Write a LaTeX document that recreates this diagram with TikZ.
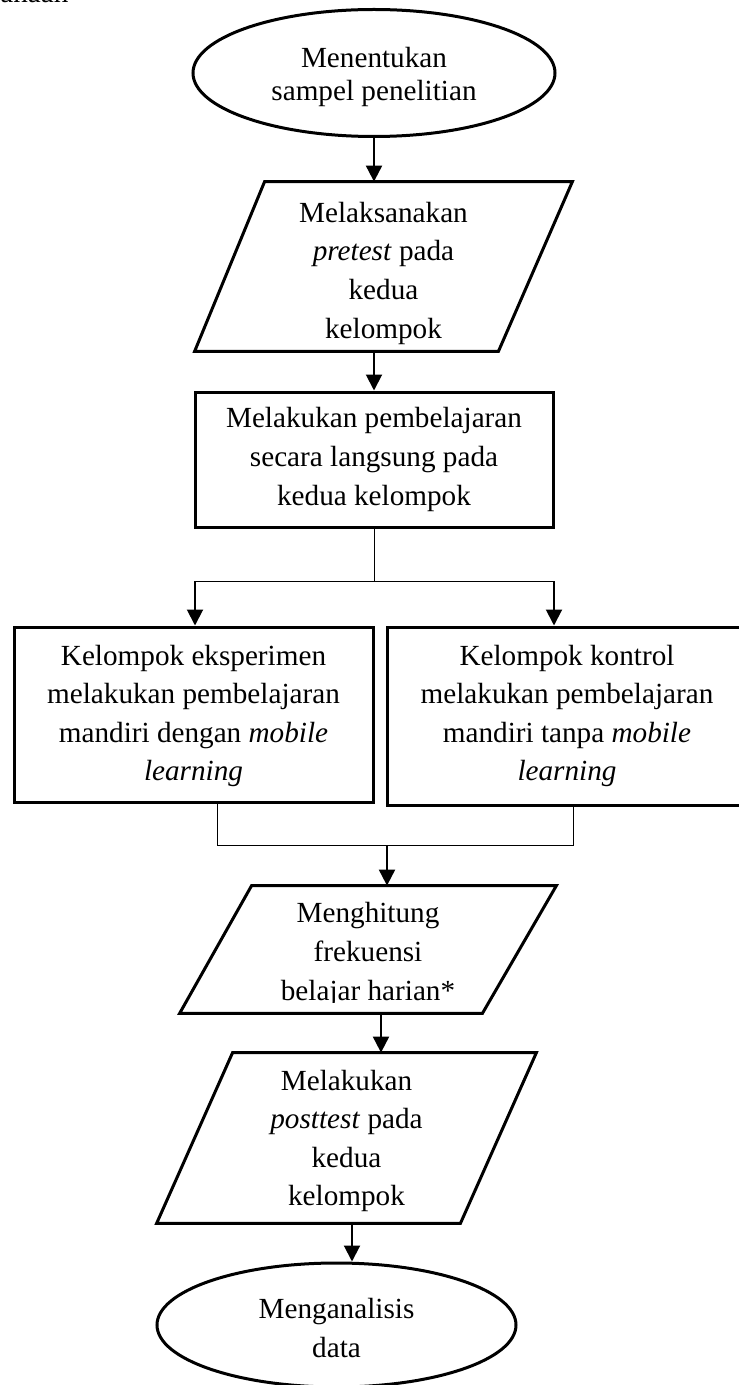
\documentclass[tikz,border=0pt]{standalone}
\usepackage{fontspec}
\setmainfont{Liberation Serif}
\usetikzlibrary{arrows.meta,shapes.geometric}

\begin{document}
\begin{tikzpicture}[x=0.5pt, y=-0.5pt,
	every node/.style={font=\fontsize{14.6}{19.3}\selectfont, align=center},
	>={Triangle[length=8pt, width=8pt]},
	stepbox/.style={draw, rectangle, line width=1.5pt},
	endbox/.style={draw, ellipse, line width=1.5pt},
	databox/.style={rectangle, inner sep=0pt},
	tepi/.style={line width=1.5pt, line join=miter},
	flow/.style={->, line width=1pt},
	joint/.style={line width=0.5pt}]
	\useasboundingbox (0,0) rectangle (738,1385);
	\node[anchor=base west, inner sep=0pt] (kop) at (0,2.5) {anaan};
	% bentuk
	\node[endbox, minimum width=181pt, minimum height=63.5pt] (mulai) at (374,73) {};
	\node[databox, minimum width=188.5pt, minimum height=84.5pt] (pretest) at (383.5,266.5) {};
	\draw[tepi] ([xshift=35pt]pretest.north west) -- (pretest.north east) -- ([xshift=-37pt]pretest.south east) -- (pretest.south west) -- cycle;
	\node[stepbox, minimum width=179pt, minimum height=67.5pt] (langsung) at (374,459.5) {};
	\node[stepbox, minimum width=179.5pt, minimum height=87.5pt] (eksperimen) at (193.5,714.5) {};
	\node[stepbox, minimum width=180pt, minimum height=89pt] (kontrol) at (567,716) {};
	\node[databox, minimum width=188pt, minimum height=63.5pt] (frekuensi) at (368,949.5) {};
	\draw[tepi] ([xshift=36pt]frekuensi.north west) -- (frekuensi.north east) -- ([xshift=-37pt]frekuensi.south east) -- (frekuensi.south west) -- cycle;
	\node[databox, minimum width=189.5pt, minimum height=85pt] (posttest) at (346.5,1138) {};
	\draw[tepi] ([xshift=38pt]posttest.north west) -- (posttest.north east) -- ([xshift=-38pt]posttest.south east) -- (posttest.south west) -- cycle;
	\node[endbox, minimum width=179.5pt, minimum height=62pt] (analisis) at (336.5,1325) {};
	% teks
	\node[font=\fontsize{14.6}{16.5}\selectfont] (mulai teks) at ([yshift=-1.75pt]mulai.center) {Menentukan\\sampel penelitian};
	\node (pretest teks) at ([yshift=-3.3pt]pretest.center) {Melaksanakan\\\textit{pretest} pada\\kedua\\kelompok};
	\node (langsung teks) at (langsung.center) {Melakukan pembelajaran\\secara langsung pada\\kedua kelompok};
	\node (eksperimen teks) at ([yshift=-0.75pt]eksperimen.center) {Kelompok eksperimen\\melakukan pembelajaran\\mandiri dengan \textit{mobile}\\\textit{learning}};
	\node (kontrol teks) at (kontrol.center) {Kelompok kontrol\\melakukan pembelajaran\\mandiri tanpa \textit{mobile}\\\textit{learning}};
	\begin{scope}
		\clip (150,880) rectangle (600,1002);
		\node (frekuensi teks) at ([yshift=-2.5pt]frekuensi.center) {Menghitung\\frekuensi\\belajar harian*};
	\end{scope}
	\node (posttest teks) at ([yshift=-1.5pt]posttest.center) {Melakukan\\\textit{posttest} pada\\kedua\\kelompok};
	\node (analisis teks) at ([yshift=-1.5pt]analisis.center) {Menganalisis\\data};
	% titik cabang
	\coordinate (cabang kiri) at (195,581);
	\coordinate (cabang kanan) at (554,581);
	\coordinate (gabung kiri) at (217,845);
	\coordinate (gabung kanan) at (573,845);
	\coordinate (gabung) at (387,845);
	\coordinate (jalur a) at (381,1013);
	\coordinate (jalur b) at (352,1223);
	% penghubung
	\draw[flow] (mulai.south) -- (mulai.south |- pretest.north);
	\draw[flow] (langsung.north |- pretest.south) -- (langsung.north);
	\draw[joint] (langsung.south) -- (langsung.south |- cabang kiri);
	\draw[joint] (cabang kiri) -- (cabang kanan);
	\draw[flow] (cabang kiri) -- (cabang kiri |- eksperimen.north);
	\draw[flow] (cabang kanan) -- (cabang kanan |- kontrol.north);
	\draw[joint] (gabung kiri |- eksperimen.south) -- (gabung kiri) -- (gabung kanan) -- (gabung kanan |- kontrol.south);
	\draw[flow] (gabung) -- (gabung |- frekuensi.north);
	\draw[flow] (jalur a |- frekuensi.south) -- (jalur a |- posttest.north);
	\draw[flow] (jalur b |- posttest.south) -- (jalur b |- analisis.north);
\end{tikzpicture}
\end{document}
